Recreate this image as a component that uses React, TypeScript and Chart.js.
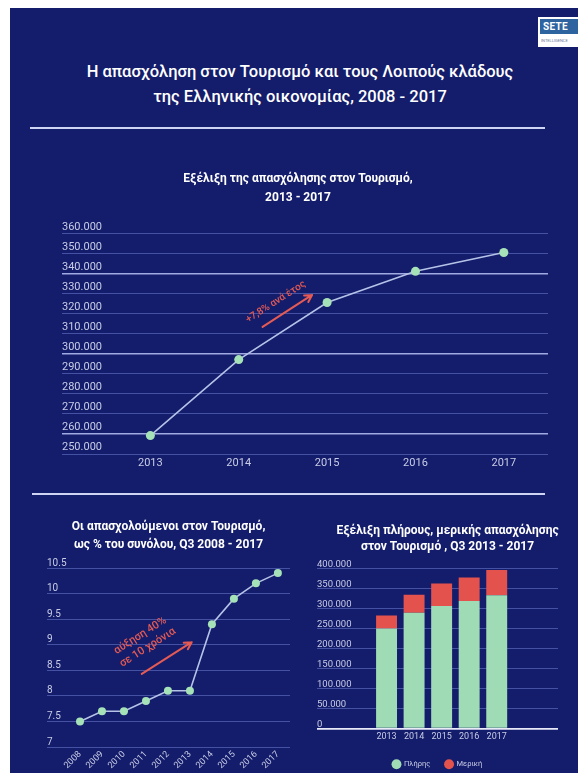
import React, { useEffect, useRef } from "react";
import { Chart, registerables } from "chart.js";

Chart.register(...registerables);

const FONT = "Roboto, 'Noto Sans', 'DejaVu Sans', sans-serif";
Chart.defaults.font.family = FONT;

// ---------- Header ----------
const mainTitle = [
  "Η απασχόληση στον Τουρισμό και τους Λοιπούς κλάδους",
  "της Ελληνικής οικονομίας, 2008 - 2017",
];

// ---------- Chart 1: employment in tourism ----------
const employmentYears = [2013, 2014, 2015, 2016, 2017];
const employmentValues = [259200, 297200, 325700, 341300, 350700];
const employmentTitle = ["Εξέλιξη της απασχόλησης στον Τουρισμό,", "2013 - 2017"];
const employmentNoteText = ["+7,8% ανά έτος"];

// ---------- Chart 2: share of total ----------
const shareYears = [2008, 2009, 2010, 2011, 2012, 2013, 2014, 2015, 2016, 2017];
const shareValues = [7.5, 7.7, 7.7, 7.9, 8.1, 8.1, 9.4, 9.9, 10.2, 10.4];
const shareTitle = ["Οι απασχολούμενοι στον Τουρισμό,", "ως % του συνόλου, Q3 2008 - 2017"];
const shareNoteText = ["αύξηση 40%", "σε 10 χρόνια"];

// ---------- Chart 3: full / part time ----------
const jobYears = [2013, 2014, 2015, 2016, 2017];
const fullTimeValues = [251000, 290500, 307400, 320000, 334300];
const partTimeValues = [32800, 44700, 56400, 58900, 63200];
const seriesNames = ["Πλήρης", "Μερική"];
const jobsTitle = ["Εξέλιξη πλήρους, μερικής απασχόλησης", "στον Τουρισμό , Q3 2013 - 2017"];

// ---------- Styles ----------
const BG = "#141d6b";
const TICK = "#c9cce6";
const GRID_DIM = "rgba(110,125,210,0.55)";
const GRID_BRIGHT = "rgba(175,185,240,0.9)";
const LINE = "#b6c3e8";
const POINT = "#a6e2b8";
const RED = "#e45a55";
const FULL = "#9fdbb4";
const PART = "#e4524d";

const fmtThousands = (v: number) =>
  Math.round(v).toString().replace(/\B(?=(\d{3})+(?!\d))/g, ".");

type Note = {
  lines: string[];
  at: [number, number];
  tail: [number, number];
  head: [number, number];
  size: number;
  gap: number;
};

function notePlugin(note: Note) {
  return {
    id: "note",
    afterDatasetsDraw(chart: any) {
      const { ctx } = chart;
      const xs = chart.scales.x;
      const ys = chart.scales.y;
      const tx = xs.getPixelForValue(note.tail[0]);
      const ty = ys.getPixelForValue(note.tail[1]);
      const hx = xs.getPixelForValue(note.head[0]);
      const hy = ys.getPixelForValue(note.head[1]);
      const ang = Math.atan2(hy - ty, hx - tx);
      ctx.save();
      ctx.strokeStyle = RED;
      ctx.fillStyle = RED;
      ctx.lineWidth = 2;
      ctx.lineCap = "round";
      ctx.lineJoin = "round";
      ctx.beginPath();
      ctx.moveTo(tx, ty);
      ctx.lineTo(hx, hy);
      const hl = 8;
      ctx.moveTo(hx - hl * Math.cos(ang - 0.5), hy - hl * Math.sin(ang - 0.5));
      ctx.lineTo(hx, hy);
      ctx.lineTo(hx - hl * Math.cos(ang + 0.5), hy - hl * Math.sin(ang + 0.5));
      ctx.stroke();
      const cx = xs.getPixelForValue(note.at[0]);
      const cy = ys.getPixelForValue(note.at[1]);
      ctx.translate(cx, cy);
      ctx.rotate(ang);
      ctx.font = `500 ${note.size}px ${FONT}`;
      ctx.textAlign = "center";
      ctx.textBaseline = "middle";
      const n = note.lines.length;
      note.lines.forEach((l, i) => ctx.fillText(l, 0, (i - (n - 1) / 2) * note.gap));
      ctx.restore();
    },
  };
}

const spacerAxis = (position: string, width: number) => ({
  type: "linear",
  position,
  display: true,
  weight: 10,
  ticks: { display: false },
  grid: { display: false, drawTicks: false },
  border: { display: false },
  afterFit: (s: any) => {
    s.width = width;
  },
});

function makeEmployment(canvas: HTMLCanvasElement) {
  return new Chart(canvas, {
    type: "line",
    data: {
      datasets: [
        {
          data: employmentYears.map((x, i) => ({ x, y: employmentValues[i] })),
          borderColor: LINE,
          borderWidth: 1.6,
          pointBackgroundColor: POINT,
          pointBorderWidth: 0,
          pointRadius: 4.5,
          tension: 0,
          xAxisID: "x",
          yAxisID: "y",
        },
      ],
    },
    options: {
      responsive: false,
      animation: false,
      events: [],
      layout: { padding: { left: 18, right: 30, top: 0, bottom: 6.8 } },
      plugins: {
        legend: { display: false },
        tooltip: { enabled: false },
        title: {
          display: true,
          text: employmentTitle,
          color: "#ffffff",
          font: { size: 12, weight: "bold", lineHeight: 1.58 },
          padding: { top: 9.5, bottom: 26.5 },
        },
      },
      scales: {
        x: {
          type: "linear",
          min: 2012,
          max: 2017.5,
          afterBuildTicks: (s: any) => {
            s.ticks = employmentYears.map((v) => ({ value: v }));
          },
          grid: { display: false, drawTicks: false },
          border: { display: false },
          ticks: { color: TICK, font: { size: 11 }, padding: 3, callback: (v: any) => String(v) },
        },
        y: {
          type: "linear",
          min: 250000,
          max: 360000,
          weight: 0,
          grid: {
            drawTicks: false,
            color: (c: any) =>
              (c.tick.value - 260000) % 40000 === 0 ? GRID_BRIGHT : GRID_DIM,
            lineWidth: (c: any) => ((c.tick.value - 260000) % 40000 === 0 ? 1.6 : 1),
          },
          border: { display: false },
          ticks: {
            stepSize: 10000,
            mirror: true,
            padding: 0,
            labelOffset: -7,
            color: TICK,
            font: { size: 11 },
            callback: (v: any) => fmtThousands(v),
          },
        },
        padL: spacerAxis("left", 14),
      },
    } as any,
    plugins: [
      notePlugin({
        lines: employmentNoteText,
        at: [2014.42, 326000],
        tail: [2014.27, 313500],
        head: [2014.83, 329500],
        size: 10,
        gap: 12,
      }),
    ],
  });
}

function makeShare(canvas: HTMLCanvasElement) {
  return new Chart(canvas, {
    type: "line",
    data: {
      datasets: [
        {
          data: shareYears.map((x, i) => ({ x, y: shareValues[i] })),
          borderColor: LINE,
          borderWidth: 1.6,
          pointBackgroundColor: POINT,
          pointBorderWidth: 0,
          pointRadius: 4,
          tension: 0,
          xAxisID: "x",
          yAxisID: "y",
        },
      ],
    },
    options: {
      responsive: false,
      animation: false,
      events: [],
      layout: { padding: { left: 17, right: 15, top: 0, bottom: 0 } },
      plugins: {
        legend: { display: false },
        tooltip: { enabled: false },
        title: {
          display: true,
          text: shareTitle,
          color: "#ffffff",
          font: { size: 12, weight: "bold", lineHeight: 1.5 },
          padding: { top: 8, bottom: 14 },
        },
      },
      scales: {
        x: {
          type: "linear",
          min: 2006.5,
          max: 2017.55,
          afterBuildTicks: (s: any) => {
            s.ticks = shareYears.map((v) => ({ value: v }));
          },
          grid: { display: false, drawTicks: false },
          border: { display: false },
          ticks: {
            color: TICK,
            font: { size: 9 },
            padding: 2,
            minRotation: 45,
            maxRotation: 45,
            autoSkip: false,
            callback: (v: any) => String(v),
          },
        },
        y: {
          type: "linear",
          min: 7,
          max: 10.5,
          grid: { drawTicks: false, color: GRID_DIM },
          border: { display: false },
          ticks: {
            stepSize: 0.5,
            mirror: true,
            padding: 0,
            labelOffset: -5,
            color: TICK,
            font: { size: 10 },
            callback: (v: any) => String(Math.round(v * 10) / 10),
          },
        },
      },
    } as any,
    plugins: [
      notePlugin({
        lines: shareNoteText,
        at: [2010.91, 9.06],
        tail: [2010.81, 8.43],
        head: [2013.08, 9.05],
        size: 11,
        gap: 14,
      }),
    ],
  });
}

function makeJobs(canvas: HTMLCanvasElement) {
  return new Chart(canvas, {
    type: "bar",
    data: {
      datasets: [
        {
          label: seriesNames[0],
          data: jobYears.map((x, i) => ({ x, y: fullTimeValues[i] })),
          backgroundColor: FULL,
          borderWidth: 0,
          barPercentage: 0.76,
          categoryPercentage: 1,
          xAxisID: "x",
          yAxisID: "y",
        },
        {
          label: seriesNames[1],
          data: jobYears.map((x, i) => ({ x, y: partTimeValues[i] })),
          backgroundColor: PART,
          borderWidth: 0,
          barPercentage: 0.76,
          categoryPercentage: 1,
          xAxisID: "x",
          yAxisID: "y",
        },
      ],
    },
    options: {
      responsive: false,
      animation: false,
      events: [],
      layout: { padding: { left: 17, right: 0, top: 0, bottom: 0 } },
      plugins: {
        tooltip: { enabled: false },
        title: {
          display: true,
          text: jobsTitle,
          color: "#ffffff",
          font: { size: 12, weight: "bold", lineHeight: 1.333 },
          padding: { top: 13, bottom: 14 },
        },
        legend: {
          display: true,
          position: "bottom",
          fullSize: false,
          labels: {
            usePointStyle: true,
            pointStyle: "circle",
            boxHeight: 7,
            color: TICK,
            font: { size: 7.5 },
            padding: 15,
          },
        },
      },
      scales: {
        x: {
          type: "linear",
          stacked: true,
          min: 2011.35,
          max: 2018.35,
          afterBuildTicks: (s: any) => {
            s.ticks = jobYears.map((v) => ({ value: v }));
          },
          grid: { display: false, drawTicks: false },
          border: { display: false },
          ticks: { color: TICK, font: { size: 9 }, padding: 3, callback: (v: any) => String(v) },
        },
        y: {
          type: "linear",
          stacked: true,
          min: 0,
          max: 400000,
          weight: 0,
          grid: {
            drawTicks: false,
            color: (c: any) => (c.tick.value === 0 ? "#e8eaf7" : GRID_DIM),
            lineWidth: (c: any) => (c.tick.value === 0 ? 1.8 : 1),
          },
          border: { display: false },
          ticks: {
            stepSize: 50000,
            mirror: true,
            padding: 0,
            labelOffset: -4.5,
            color: TICK,
            font: { size: 9.5 },
            callback: (v: any) => fmtThousands(v),
          },
        },
        padR: spacerAxis("right", 20),
      },
    } as any,
  });
}

function ChartCanvas({
  make,
  left,
  top,
  width,
  height,
}: {
  make: (c: HTMLCanvasElement) => Chart;
  left: number;
  top: number;
  width: number;
  height: number;
}) {
  const ref = useRef<HTMLCanvasElement | null>(null);
  useEffect(() => {
    if (!ref.current) return;
    const chart = make(ref.current);
    return () => chart.destroy();
  }, []);
  return (
    <canvas
      ref={ref}
      width={width}
      height={height}
      style={{ position: "absolute", left, top, width, height, display: "block" }}
    />
  );
}

export default function App() {
  return (
    <div
      style={{
        position: "absolute",
        left: 0,
        top: 0,
        width: 578,
        height: 773,
        overflow: "hidden",
        background: "#ffffff",
        fontFamily: FONT,
      }}
    >
      <div style={{ position: "absolute", left: 10, top: 8, width: 568, height: 765, background: BG }} />
      {/* logo */}
      <div
        style={{
          position: "absolute",
          left: 538,
          top: 17,
          width: 42,
          height: 30,
          background: "#ffffff",
        }}
      >
        <div
          style={{
            position: "absolute",
            left: 2,
            top: 2,
            width: 40,
            height: 15,
            background: "#2d64a0",
            color: "#ffffff",
            fontSize: 10,
            fontWeight: 700,
            lineHeight: "15px",
            paddingLeft: 3,
            letterSpacing: 0.3,
          }}
        >
          SETE
        </div>
        <div
          style={{
            position: "absolute",
            left: 3,
            top: 21,
            fontSize: 4,
            color: "#6b7898",
            whiteSpace: "nowrap",
          }}
        >
          INTELLIGENCE
        </div>
      </div>
      {/* main title */}
      <div
        style={{
          position: "absolute",
          left: 0,
          top: 59,
          width: 600,
          textAlign: "center",
          color: "#ffffff",
          fontSize: 16.5,
          fontWeight: 500,
          lineHeight: "25px",
        }}
      >
        {mainTitle.map((l) => (
          <div key={l}>{l}</div>
        ))}
      </div>
      <div style={{ position: "absolute", left: 30, top: 127, width: 515, height: 2, background: "#cfd4f2" }} />
      <div style={{ position: "absolute", left: 32, top: 493, width: 513, height: 2, background: "#cfd4f2" }} />
      <ChartCanvas make={makeEmployment} left={30} top={160} width={548} height={320} />
      <ChartCanvas make={makeShare} left={30} top={510} width={275} height={263} />
      <ChartCanvas make={makeJobs} left={300} top={510} width={278} height={268} />
    </div>
  );
}
